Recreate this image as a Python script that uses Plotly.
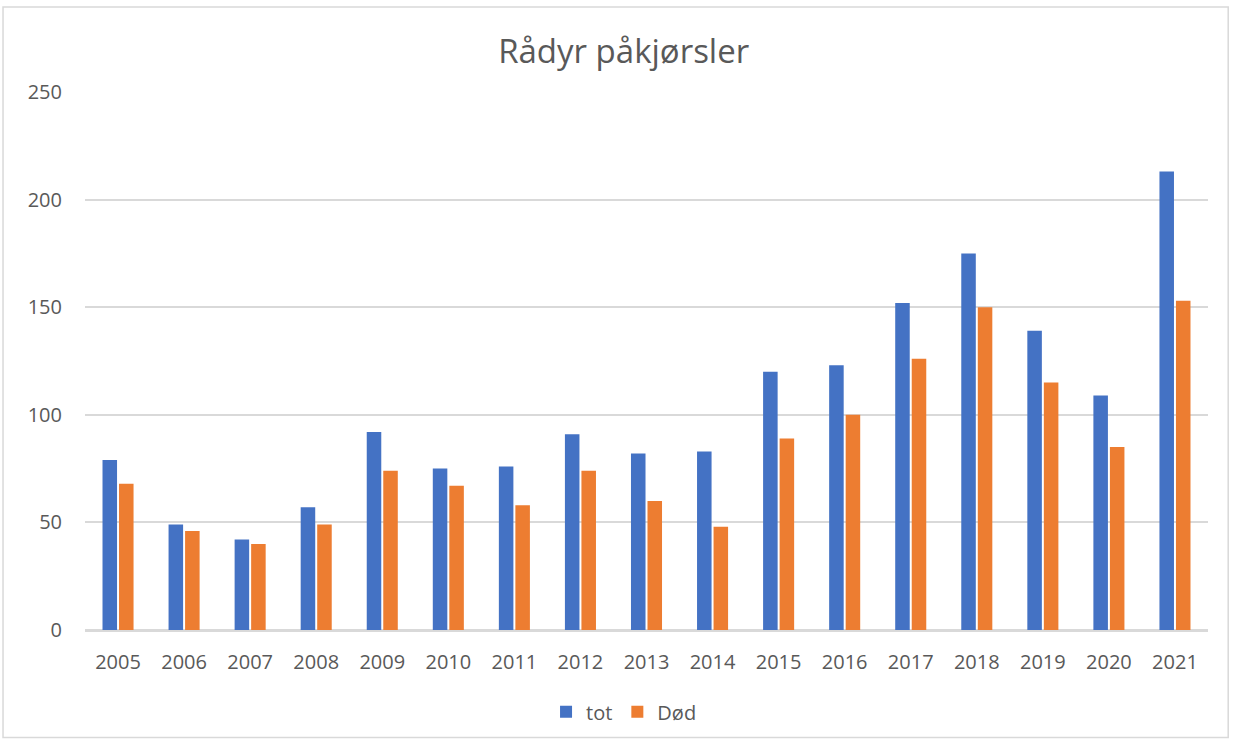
import plotly.graph_objects as go

years = ["2005","2006","2007","2008","2009","2010","2011","2012","2013","2014","2015","2016","2017","2018","2019","2020","2021"]
tot = [79, 49, 42, 57, 92, 75, 76, 91, 82, 83, 120, 123, 152, 175, 139, 109, 213]
dod = [68, 46, 40, 49, 74, 67, 58, 74, 60, 48, 89, 100, 126, 150, 115, 85, 153]
y_ticks = [0, 50, 100, 150, 200, 250]

FONT = "Open Sans"
GREY = "#595959"

fig = go.Figure()
fig.add_trace(go.Bar(x=years, y=tot, name="tot", marker=dict(color="#4472C4", line=dict(width=0))))
fig.add_trace(go.Bar(x=years, y=dod, name="Død", marker=dict(color="#ED7D31", line=dict(width=0))))

fig.update_layout(
    width=1235, height=740,
    margin=dict(l=85, r=27, t=92, b=110, autoexpand=False),
    paper_bgcolor="white", plot_bgcolor="white",
    barmode="group", bargap=0.5, bargroupgap=0.12,
    title=dict(text="Rådyr påkjørsler", x=0.505, xanchor="center", y=0.93, yanchor="middle",
               font=dict(family=FONT, size=33, color=GREY)),
    font=dict(family=FONT, size=20, color=GREY),
    legend=dict(orientation="h", x=0.48, xanchor="center", y=-0.152, yanchor="middle",
                font=dict(family=FONT, size=20, color=GREY), itemwidth=30,
                traceorder="normal"),
    xaxis=dict(showgrid=False, showline=True, linecolor="#d9d9d9", linewidth=1.5,
               tickfont=dict(family=FONT, size=20, color=GREY), ticks="", ticklabelstandoff=13),
    yaxis=dict(range=[0, 250], tickvals=y_ticks, showgrid=True, gridcolor="#d9d9d9", gridwidth=1.5,
               zeroline=True, zerolinecolor="#d9d9d9", zerolinewidth=1.5, showline=False,
               tickfont=dict(family=FONT, size=20, color=GREY), ticks="", ticklabelstandoff=22),
    shapes=[dict(type="rect", xref="paper", yref="paper", x0=-0.073, x1=1.018, y0=-0.2, y1=1.158,
                 line=dict(color="#d9d9d9", width=1.5), fillcolor="rgba(0,0,0,0)", layer="below")],
)

fig.write_html("out.html", config={"displayModeBar": False},
               post_script="document.body.style.margin='0';document.body.style.overflow='hidden';")
